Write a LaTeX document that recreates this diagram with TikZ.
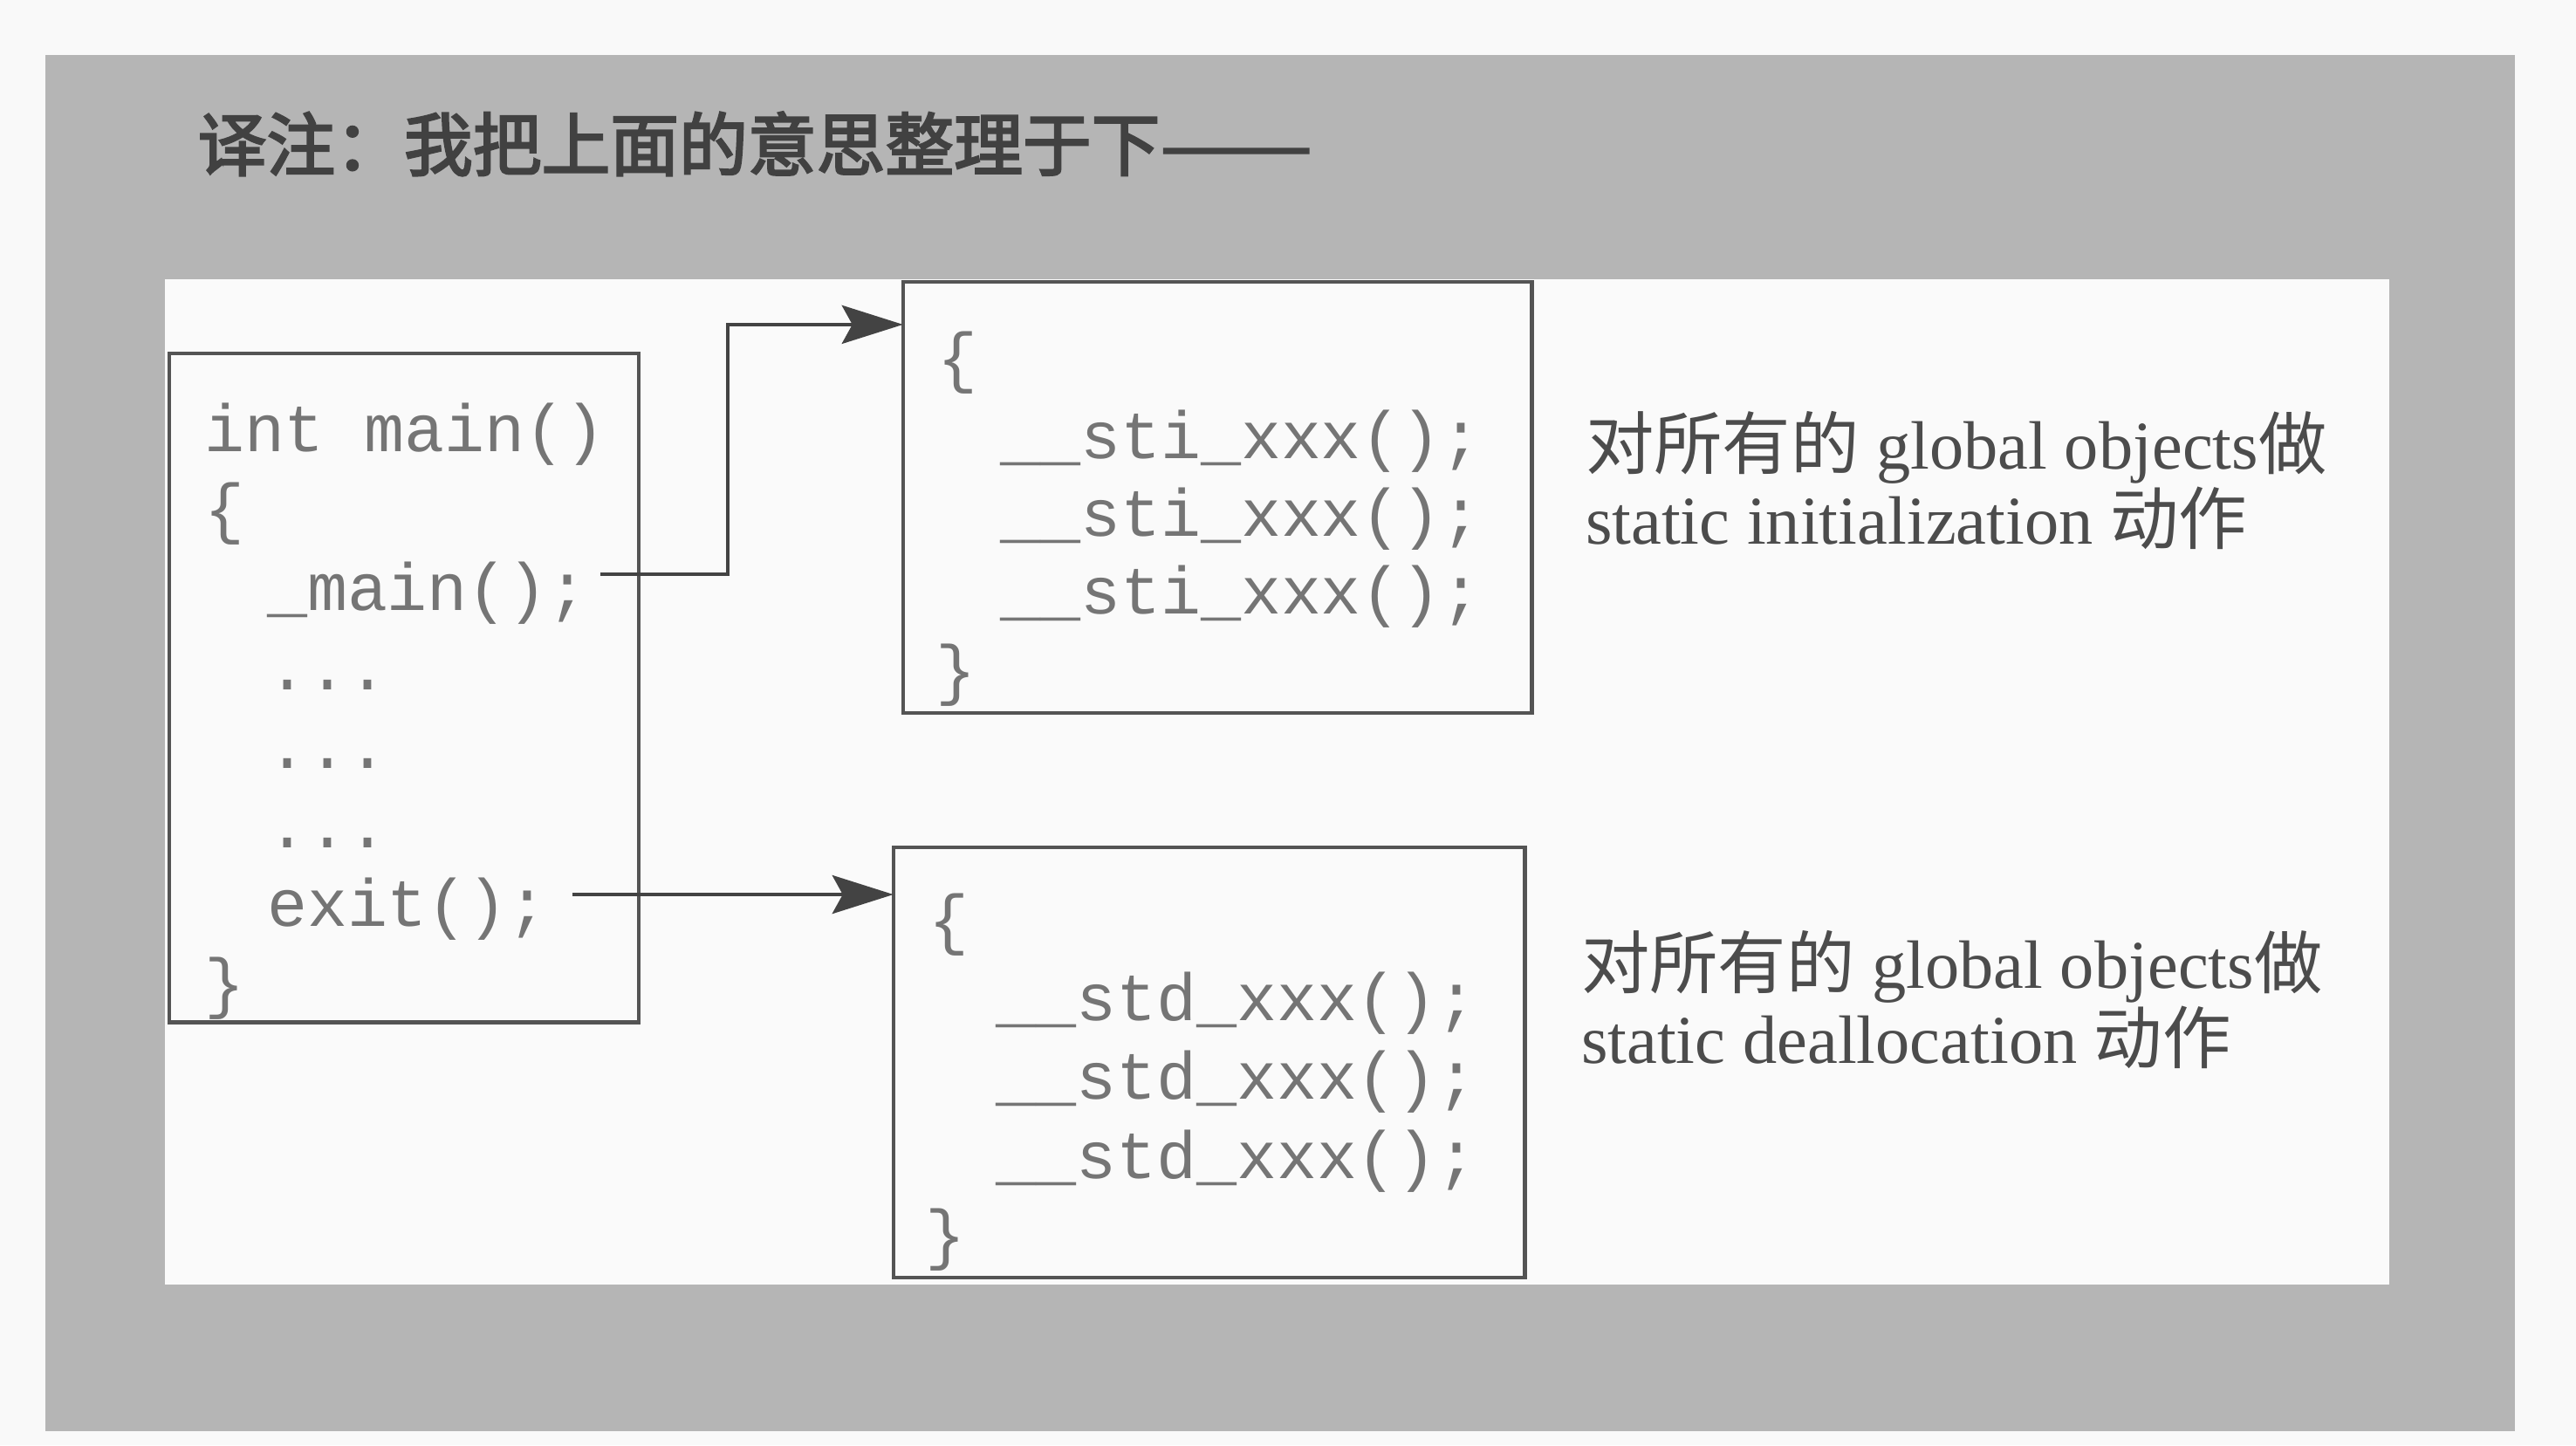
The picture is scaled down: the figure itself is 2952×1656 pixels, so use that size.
\documentclass[tikz,border=0pt]{standalone}
\usepackage{fontspec}
\setmainfont{Liberation Serif}
\setmonofont{Liberation Mono}
\newfontfamily\cjk{Noto Sans CJK SC}
\newfontfamily\cjktitle[FakeBold=3]{Noto Sans CJK SC}
\usetikzlibrary{arrows.meta}
\definecolor{pagebg}{gray}{0.975}
\definecolor{framegray}{gray}{0.71}
\definecolor{panelbg}{gray}{0.98}
\definecolor{linegray}{gray}{0.33}
\definecolor{codegray}{gray}{0.46}
\definecolor{textgray}{gray}{0.30}
\begin{document}
\begin{tikzpicture}[x=0.01cm,y=-0.01cm,
  box/.style={draw=linegray, line width=1.3pt, inner sep=0pt, outer sep=0pt, fill=panelbg},
  code/.style={anchor=base west, inner sep=0pt, outer sep=0pt, text=codegray, font=\ttfamily\fontsize{21.8pt}{25pt}\selectfont},
  note/.style={anchor=base west, inner sep=0pt, outer sep=0pt, text=textgray, font=\fontsize{22.3pt}{26pt}\selectfont},
  arr/.style={draw=linegray!80!black, line width=1.2pt, -{Stealth[length=0.7cm,width=0.44cm,inset=0.12cm]}}]
\useasboundingbox (0,0) rectangle (2952,1656);
\fill[pagebg] (0,0) rectangle (2952,1656);
\fill[framegray] (52,63) rectangle (2882,1640);
\fill[panelbg] (189,320) rectangle (2738,1472);
% title
\node[anchor=base west, inner sep=0pt, text=textgray!85!black, font=\cjktitle\fontsize{22.4pt}{26pt}\selectfont] (title) at (226,195) {译注：我把上面的意思整理于下\scalebox{1.32}[1]{——}};
% boxes
\node[box, minimum width=5.38cm, minimum height=7.66cm] (mainbox) at (463,788) {};
\node[box, minimum width=7.20cm, minimum height=4.94cm] (topbox) at (1395,570) {};
\node[box, minimum width=7.23cm, minimum height=4.93cm] (botbox) at (1385.5,1217.5) {};
% main code
\node[code] (m0) at (234,517) {int main()};
\node[code] (m1) at (234,608) {\{};
\node[code] (m2) at (306,699) {\_main();};
\node[code] (m3) at (306,790) {...};
\node[code] (m4) at (306,880) {...};
\node[code] (m5) at (306,971) {...};
\node[code] (m6) at (306,1061) {exit();};
\node[code] (m7) at (234,1152) {\}};
% top box code
\node[code] (t0) at (1074,435) {\{};
\node[code] (t1) at (1146,525) {\_\_sti\_xxx();};
\node[code] (t2) at (1146,614) {\_\_sti\_xxx();};
\node[code] (t3) at (1146,703) {\_\_sti\_xxx();};
\node[code] (t4) at (1072,793) {\}};
% bottom box code
\node[code] (b0) at (1064,1079) {\{};
\node[code] (b1) at (1141,1169) {\_\_std\_xxx();};
\node[code] (b2) at (1141,1259) {\_\_std\_xxx();};
\node[code] (b3) at (1141,1350) {\_\_std\_xxx();};
\node[code] (b4) at (1060,1440) {\}};
% notes
\node[note] (n1) at (1817,537) {{\cjk 对所有的} global objects{\cjk 做}};
\node[note] (n2) at (1817,623) {static initialization {\cjk 动作}};
\node[note] (n3) at (1812,1132) {{\cjk 对所有的} global objects{\cjk 做}};
\node[note] (n4) at (1812,1218) {static deallocation {\cjk 动作}};
% arrows
\coordinate (s1) at (688,658);
\coordinate (s2) at (656,1025);
\draw[arr] (s1) -- ++(146,0) |- ([yshift=-0.49cm]topbox.north west);
\draw[arr] (s2) -- (s2 -| botbox.west);
\end{tikzpicture}
\end{document}
